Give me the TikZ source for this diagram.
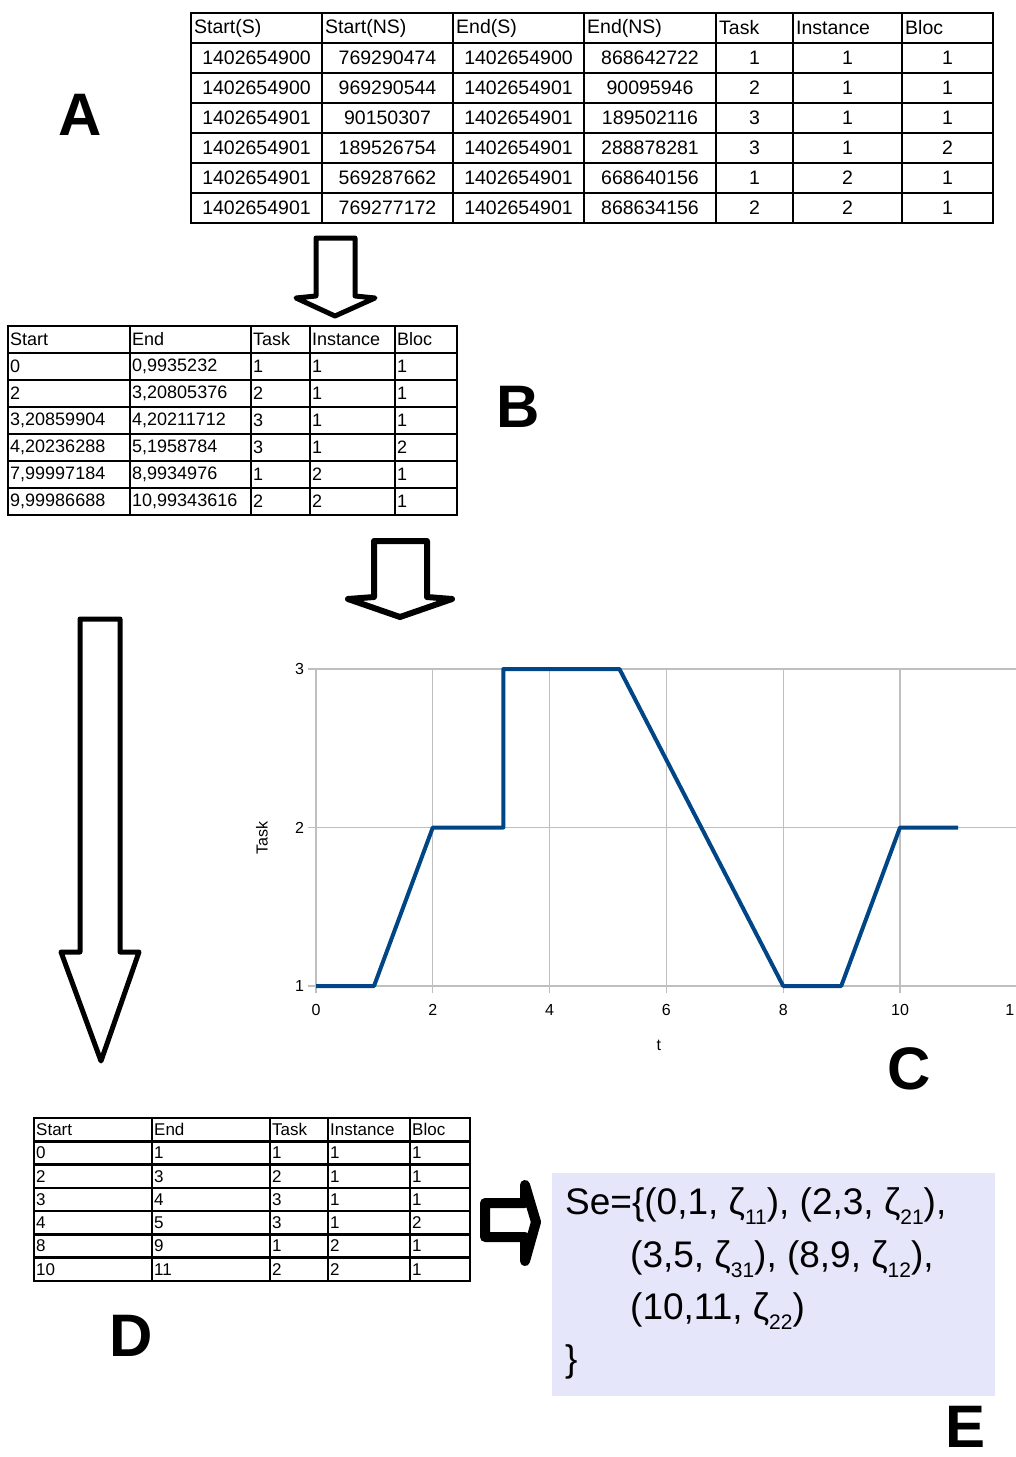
\documentclass[tikz,border=0pt]{standalone}
\usepackage{fontspec}
\setmainfont{Liberation Sans}
\usepackage{tikz}
\definecolor{kurvenblau}{RGB}{0,69,134}
\definecolor{lavendel}{RGB}{230,230,250}
\usetikzlibrary{arrows}
\newcommand{\zetasub}[1]{ζ\raisebox{-10pt}{\fontsize{21}{21}\selectfont #1}}

\begin{document}
\begin{tikzpicture}[x=1pt, y=-1pt,
				>=latex,   %Pfeilspitzen
				zelle/.style={anchor=west, inner sep=0pt},
				mitte/.style={anchor=center, inner sep=0pt},
				linie/.style={line width=2.5pt, black},
				gitter/.style={color=gray!50, line width=1.2pt},
				kurve/.style={color=kurvenblau, line width=4pt, line join=round},
				blockpfeil/.style={draw=black, fill=white, line join=round},
				buchstabe/.style={font=\fontsize{60}{60}\selectfont\bfseries, inner sep=0pt}]
				\useasboundingbox (0,0) rectangle (1016,1457);
				% Tabelle A
				\begin{scope}[font=\fontsize{19.5}{24}\selectfont]
				\foreach \x in {191,322,453,584,716,793,902,993} \draw[linie] (\x,13) -- (\x,224);
				\foreach \y in {13,43,...,223} \draw[linie] (190,\y) -- (994,\y);
				\foreach \x/\t [count=\i] in {191/Start(S),322/Start(NS),453/End(S),584/End(NS),716/Task,793/Instance,902/Bloc}
					\node[zelle] (kopfA\i) at (\x+3,28) {\t};
				\foreach \a/\b/\c/\d/\e/\f/\g [count=\r, evaluate=\r as \yy using 28+30*\r] in {
					1402654900/769290474/1402654900/868642722/1/1/1,
					1402654900/969290544/1402654901/90095946/2/1/1,
					1402654901/90150307/1402654901/189502116/3/1/1,
					1402654901/189526754/1402654901/288878281/3/1/2,
					1402654901/569287662/1402654901/668640156/1/2/1,
					1402654901/769277172/1402654901/868634156/2/2/1} {
					\node[mitte] (A\r-1) at (256.5,\yy) {\a};
					\node[mitte] (A\r-2) at (387.5,\yy) {\b};
					\node[mitte] (A\r-3) at (518.5,\yy) {\c};
					\node[mitte] (A\r-4) at (650,\yy) {\d};
					\node[mitte] (A\r-5) at (754.5,\yy) {\e};
					\node[mitte] (A\r-6) at (847.5,\yy) {\f};
					\node[mitte] (A\r-7) at (947.5,\yy) {\g};
				}
				\end{scope}
				% Tabelle B
				\begin{scope}[font=\fontsize{18}{22}\selectfont]
				\foreach \x in {8,130,251,310,395,457} \draw[linie] (\x,326) -- (\x,515);
				\foreach \y in {326,353,...,515} \draw[linie] (7,\y) -- (458,\y);
				\foreach \x/\t [count=\i] in {8/Start,130/End,251/Task,310/Instance,395/Bloc}
					\node[zelle] (kopfB\i) at (\x+2,339.5) {\t};
				\foreach \a/\b/\c/\d/\e [count=\r, evaluate=\r as \yy using 339.5+27*\r] in {
					0/{0,9935232}/1/1/1,
					2/{3,20805376}/2/1/1,
					{3,20859904}/{4,20211712}/3/1/1,
					{4,20236288}/{5,1958784}/3/1/2,
					{7,99997184}/{8,9934976}/1/2/1,
					{9,99986688}/{10,99343616}/2/2/1} {
					\node[zelle] (B\r-1) at (10,\yy) {\a};
					\node[zelle] (B\r-2) at (132,\yy) {\b};
					\node[zelle] (B\r-3) at (253,\yy) {\c};
					\node[zelle] (B\r-4) at (312,\yy) {\d};
					\node[zelle] (B\r-5) at (397,\yy) {\e};
				}
				\end{scope}
				% Tabelle D
				\begin{scope}[font=\fontsize{17}{20}\selectfont]
				\foreach \x in {34,152,270,328,410,470} \draw[linie] (\x,1118) -- (\x,1281);
				\foreach \i in {0,...,7} \draw[linie] (33,1118+23.286*\i) -- (471,1118+23.286*\i);
				\foreach \x/\t [count=\i] in {34/Start,152/End,270/Task,328/Instance,410/Bloc}
					\node[zelle] (kopfD\i) at (\x+2,1129.6) {\t};
				\foreach \a/\b/\c/\d/\e [count=\r, evaluate=\r as \yy using 1129.6+23.286*\r] in {
					0/1/1/1/1, 2/3/2/1/1, 3/4/3/1/1, 4/5/3/1/2, 8/9/1/2/1, 10/11/2/2/1} {
					\node[zelle] (D\r-1) at (36,\yy) {\a};
					\node[zelle] (D\r-2) at (154,\yy) {\b};
					\node[zelle] (D\r-3) at (272,\yy) {\c};
					\node[zelle] (D\r-4) at (330,\yy) {\d};
					\node[zelle] (D\r-5) at (412,\yy) {\e};
				}
				\end{scope}
				% Blockpfeile
				\draw[blockpfeil, line width=5pt] (316,238) -- (355,238) -- (355,296) -- (375,298) -- (335,316) -- (296,298) -- (316,296) -- cycle;
				\draw[blockpfeil, line width=6pt] (374,541) -- (427,541) -- (427,597) -- (452,599) -- (400,617) -- (348,599) -- (374,597) -- cycle;
				\draw[blockpfeil, line width=5pt] (80,619) -- (120,619) -- (120,952) -- (139,952) -- (101,1061) -- (61,952) -- (80,952) -- cycle;
				\draw[blockpfeil, line width=10pt] (485,1203) -- (525,1203) -- (525,1185) -- (536,1222) -- (525,1261) -- (525,1237) -- (485,1237) -- cycle;
				% Diagramm C
				\begin{scope}[shift={(316,1144.5)}, x=58.4pt, y=158.5pt, font=\fontsize{16}{18}\selectfont]
				\foreach \x in {0,2,...,10} \draw[gitter] (\x,0.955) -- (\x,3);
				\foreach \y in {1,2,3} \draw[gitter] (-0.13,\y) -- (12,\y);
				\foreach \y in {1,2,3} \node[anchor=east, inner sep=0pt] (ty\y) at (-0.2,\y) {\y};
				\foreach \x in {0,2,...,10} \node[inner sep=0pt] (tx\x) at (\x,0.85) {\x};
				\node[inner sep=0pt] (tx12) at (11.88,0.85) {1};
				\node[inner sep=0pt] (achseT) at (5.87,0.628) {t};
				\node[inner sep=0pt, rotate=90] (achseTask) at (-0.925,1.934) {Task};
				\draw[kurve] plot coordinates {(0,1) (0.9935,1) (2,2) (3.208,2) (3.2086,3) (4.202,3) (5.1959,3) (8,1) (8.9935,1) (10,2) (10.9934,2)};
				\end{scope}
				% Kasten E
				\node[fill=lavendel, minimum width=443pt, minimum height=223pt, anchor=north west, inner sep=0pt] (kastenE) at (552,1173) {};
				\begin{scope}[font=\fontsize{37}{46}\selectfont]
				\node[anchor=base west, inner sep=0pt] (zeile1) at (565,1214) {Se=\{(0,1, \zetasub{11}), (2,3, \zetasub{21}),};
				\node[anchor=base west, inner sep=0pt] (zeile2) at (630,1267) {(3,5, \zetasub{31}), (8,9, \zetasub{12}),};
				\node[anchor=base west, inner sep=0pt] (zeile3) at (630,1319) {(10,11, \zetasub{22})};
				\node[anchor=base west, inner sep=0pt] (zeile4) at (565,1371) {\}};
				\end{scope}
				% Beschriftung
				\node[buchstabe] (labA) at (80,115) {A};
				\node[buchstabe] (labB) at (518,407) {B};
				\node[buchstabe] (labC) at (909,1069) {C};
				\node[buchstabe] (labD) at (131,1336) {D};
				\node[buchstabe] (labE) at (965,1427) {E};
			\end{tikzpicture}
\end{document}
